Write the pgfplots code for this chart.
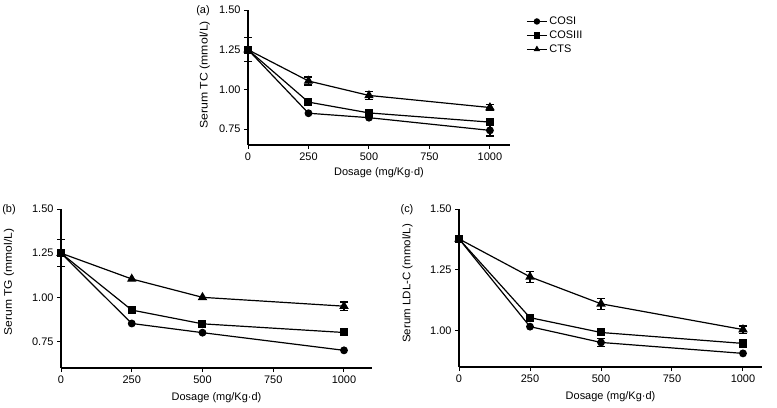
\documentclass[border=0pt]{standalone}
\usepackage{fontspec}
\setmainfont{Liberation Sans}
\usepackage{graphicx}
\usepackage{pgfplots}
\pgfplotsset{compat=1.18}
\pgfplotsset{
  panel/.style={
    scale only axis, axis lines*=left, clip=false,
    xmin=0, xtick={0,250,500,750,1000},
    tick align=outside, major tick length=4bp,
    every tick/.style={black, line width=1bp},
    axis line style={line width=1.1bp},
    tick label style={font=\fontsize{11}{13}\selectfont},
    /pgf/number format/assume math mode=true,
    xticklabel style={/pgf/number format/1000 sep={}},
    yticklabel style={/pgf/number format/fixed, /pgf/number format/fixed zerofill, /pgf/number format/precision=2},
    label style={font=\fontsize{11}{13}\selectfont},
    xlabel={Dosage (mg/Kg·d)},
  },
  eb/.style={draw=none, mark=none, forget plot, black,
    error bars/.cd, y dir=both, y explicit,
    error mark options={rotate=90, mark size=4bp, line width=1.2bp, black},
    error bar style={line width=1.2bp, black}},
  cosi/.style={black, line width=1.2bp, mark=*, mark size=3.3bp, mark options={solid, fill=black}},
  cosiii/.style={black, line width=1.2bp, mark=square*, mark size=3.4bp, mark options={solid, fill=black}},
  cts/.style={black, line width=1.2bp, mark=triangle*, mark size=4.3bp, mark options={solid, fill=black}},
}
\begin{document}
\begin{tikzpicture}[x=1bp,y=1bp]
\useasboundingbox (0,0) rectangle (777,407);
% ---------------- (a)
\begin{axis}[panel, at={(248bp,262bp)}, anchor=south west,
  width=262bp, height=135bp, xmax=1083, ymin=0.65, ymax=1.5,
  ytick={0.75,1.00,1.25,1.50},
  ylabel={\scalebox{1.12}[1]{Serum TC (mmol/L)}},
  ylabel style={at={(axis description cs:-0.165,0.52)}, anchor=center},
  xlabel style={at={(axis description cs:0.5,-0.207)}, anchor=center},
  legend style={draw=none, fill=none, at={(axis description cs:1.05,0.98)}, anchor=north west,
    font=\fontsize{11}{13}\selectfont, row sep=0.8bp},
  legend cell align=left,
  legend image code/.code={\draw[#1, mark repeat=2, mark phase=2, mark size=2.6bp] plot coordinates {(0bp,0bp)(10bp,0bp)(20bp,0bp)};},
]
\addplot[eb] coordinates {(0,1.25) +- (0,0.075) (250,1.053) +- (0,0.025) (500,0.962) +- (0,0.025) (1000,0.886) +- (0,0.02)};
\addplot[eb] coordinates {(1000,0.794) +- (0,0.02) (500,0.852) +- (0,0.01)};
\addplot[eb] coordinates {(1000,0.742) +- (0,0.035)};
\addplot[cosi] coordinates {(0,1.25) (250,0.850) (500,0.822) (1000,0.742)};
\addplot[cosiii] coordinates {(0,1.25) (250,0.920) (500,0.852) (1000,0.794)};
\addplot[cts] coordinates {(0,1.25) (250,1.053) (500,0.962) (1000,0.886)};
\legend{COSI, COSIII, CTS}
\end{axis}
\node[font=\fontsize{11}{13}\selectfont] at (203,396) {(a)};
% ---------------- (b)
\begin{axis}[panel, at={(61bp,39bp)}, anchor=south west,
  width=311bp, height=159bp, xmax=1099, ymin=0.60, ymax=1.5,
  ytick={0.75,1.00,1.25,1.50},
  ylabel={\scalebox{1.1}[1]{Serum TG (mmol/L)}},
  ylabel style={at={(axis description cs:-0.167,0.54)}, anchor=center},
  xlabel style={at={(axis description cs:0.5,-0.189)}, anchor=center},
]
\addplot[eb] coordinates {(0,1.25) +- (0,0.076) (1000,0.950) +- (0,0.024)};
\addplot[cosi] coordinates {(0,1.25) (250,0.852) (500,0.800) (1000,0.700)};
\addplot[cosiii] coordinates {(0,1.25) (250,0.928) (500,0.850) (1000,0.801)};
\addplot[cts] coordinates {(0,1.25) (250,1.104) (500,1.000) (1000,0.950)};
\end{axis}
\node[font=\fontsize{11}{13}\selectfont] at (9,197) {(b)};
% ---------------- (c)
\begin{axis}[panel, at={(459bp,40bp)}, anchor=south west,
  width=303bp, height=158bp, xmax=1067, ymin=0.85, ymax=1.5,
  ytick={1.00,1.25,1.50},
  ylabel={\scalebox{1.05}[1]{Serum LDL-C (mmol/L)}},
  ylabel style={at={(axis description cs:-0.17,0.53)}, anchor=center},
  xlabel style={at={(axis description cs:0.5,-0.19)}, anchor=center},
]
\addplot[eb] coordinates {(0,1.377) +- (0,0.01) (250,1.221) +- (0,0.023) (500,1.110) +- (0,0.023) (1000,1.004) +- (0,0.015)};
\addplot[eb] coordinates {(1000,0.947) +- (0,0.017) (500,0.951) +- (0,0.017)};
\addplot[cosi] coordinates {(0,1.377) (250,1.016) (500,0.951) (1000,0.906)};
\addplot[cosiii] coordinates {(0,1.377) (250,1.053) (500,0.992) (1000,0.947)};
\addplot[cts] coordinates {(0,1.377) (250,1.221) (500,1.110) (1000,1.004)};
\end{axis}
\node[font=\fontsize{11}{13}\selectfont] at (407,197) {(c)};
\end{tikzpicture}
\end{document}
